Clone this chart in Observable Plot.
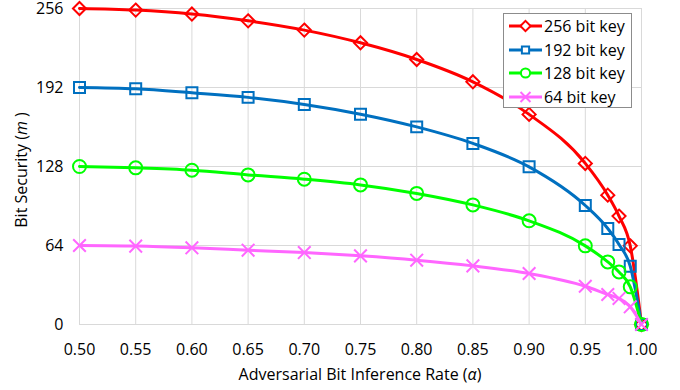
<!DOCTYPE html>
<html>
<head>
<meta charset="utf-8">
<script src="https://cdn.jsdelivr.net/npm/d3@7"></script>
<script src="https://cdn.jsdelivr.net/npm/@observablehq/plot@0.6"></script>
<style>
  body { margin: 0; background: #fff; }
  #wrap { position: relative; width: 680px; height: 390px; font-family: "Open Sans", sans-serif; }
  #legend { position: absolute; left: 503px; top: 13px; width: 127px; height: 93px; border: 1px solid #8c8c8c; background: #fff; }
  .row { position: absolute; left: 0; height: 24px; display: flex; align-items: center; font-size: 16px; color: #000; white-space: nowrap; }
  .row svg { margin-left: 5px; margin-right: 2px; }
</style>
</head>
<body>
<div id="wrap"></div>
<script>
const alpha = [0.50, 0.55, 0.60, 0.65, 0.70, 0.75, 0.80, 0.85, 0.90, 0.95, 0.97, 0.98, 0.99, 1.00];
const key256 = [256, 254.7, 251.5, 246, 238.5, 228.2, 214.7, 196.6, 170.2, 130.5, 104.8, 87.8, 63.7, 0];
const key192 = [192, 190.9, 187.7, 184, 178.3, 170.4, 160.1, 146.7, 127.7, 96.4, 77.8, 64.8, 47.2, 0];
const key128 = [128, 126.9, 125, 121.2, 117.7, 113.1, 106.2, 96.9, 84, 63.7, 50.7, 42.6, 30.5, 0];
const key64 = [64, 63.5, 62.1, 60.2, 58.3, 55.6, 52.1, 47.5, 41.3, 31, 24.3, 21.1, 14.3, 0];
const seriesNames = ["256 bit key", "192 bit key", "128 bit key", "64 bit key"];
const seriesColors = ["#FF0000", "#0070C0", "#00FF00", "#FF66FF"];
const seriesSymbols = ["diamond2", "square2", "circle", "times"];
const seriesR = [5.9, 7, 6.5, 5.8];
const xTicks = [0.50, 0.55, 0.60, 0.65, 0.70, 0.75, 0.80, 0.85, 0.90, 0.95, 1.00];
const yTicks = [0, 64, 128, 192, 256];

const allValues = [key256, key192, key128, key64];
const data = [];
allValues.forEach((vals, i) => vals.forEach((v, j) => data.push({x: alpha[j], y: v, s: seriesNames[i], i})));

const marks = [
  Plot.ruleX(xTicks, {x: d => d, stroke: "#d9d9d9", strokeWidth: 1}),
  Plot.ruleY(yTicks, {y: d => d, stroke: "#d9d9d9", strokeWidth: 1})
];
seriesNames.forEach((name, i) => {
  const d = data.filter(p => p.i === i);
  marks.push(Plot.line(d, {x: "x", y: "y", stroke: seriesColors[i], strokeWidth: 3, curve: "monotone-x"}));
  marks.push(Plot.dot(d, {x: "x", y: "y", stroke: seriesColors[i], fill: "none", symbol: () => seriesSymbols[i], r: seriesR[i], strokeWidth: 2}));
});

const chart = Plot.plot({
  width: 680,
  height: 390,
  marginLeft: 79,
  marginRight: 39,
  marginTop: 8,
  marginBottom: 66,
  style: {fontFamily: "'Open Sans', sans-serif", fontSize: "16px", color: "#000", background: "transparent", overflow: "visible"},
  x: {domain: [0.5, 1.0], ticks: xTicks, tickFormat: d3.format(".2f"), tickSize: 0, tickPadding: 19, label: null},
  y: {domain: [0, 256], ticks: yTicks, tickSize: 0, tickPadding: 16, label: null},
  symbol: {type: "identity"},
  marks
});
document.getElementById("wrap").appendChild(chart);

// Axis titles with italic symbols
const svg = d3.select(chart);
const xr = chart.scale("x").range, yr = chart.scale("y").range;
const xMid = (xr[0] + xr[1]) / 2, yMid = (yr[0] + yr[1]) / 2;
const xt = svg.append("text").attr("x", xMid).attr("y", 380).attr("text-anchor", "middle")
  .attr("font-size", 16).attr("fill", "#000");
xt.append("tspan").text("Adversarial Bit Inference Rate (");
xt.append("tspan").attr("font-style", "italic").text("α");
xt.append("tspan").text(")");
const yt = svg.append("text").attr("transform", `translate(27,${yMid + 4}) rotate(-90)`).attr("text-anchor", "middle")
  .attr("font-size", 16).attr("fill", "#000");
yt.append("tspan").text("Bit Security (");
yt.append("tspan").attr("font-style", "italic").text("m");
yt.append("tspan").text(" )");

// Legend
const legend = document.createElement("div");
legend.id = "legend";
seriesNames.forEach((name, i) => {
  const row = document.createElement("div");
  row.className = "row";
  row.style.top = (i * 23.6) + "px";
  const sym = d3.symbol(
    {diamond2: d3.symbolDiamond2, square2: d3.symbolSquare2, circle: d3.symbolCircle, times: d3.symbolTimes}[seriesSymbols[i]],
    Math.PI * 4.6 * 4.6)();
  row.innerHTML = `<svg width="33" height="14" viewBox="-16.5 -7 33 14" style="overflow:visible">
    <line x1="-16.5" x2="16.5" y1="0" y2="0" stroke="${seriesColors[i]}" stroke-width="3"/>
    <path d="${sym}" fill="${seriesSymbols[i] === "times" ? "none" : "white"}" stroke="${seriesColors[i]}" stroke-width="2"/>
  </svg><span>${name}</span>`;
  legend.appendChild(row);
});
document.getElementById("wrap").appendChild(legend);
</script>
</body>
</html>
